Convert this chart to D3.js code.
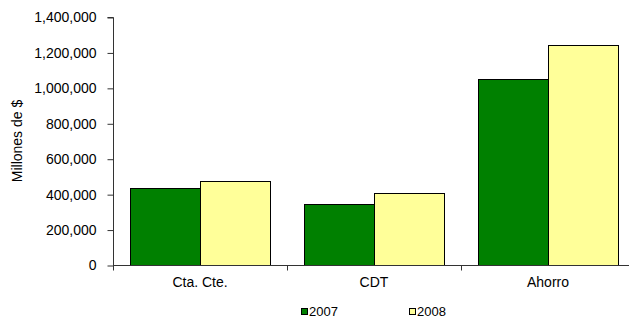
<!DOCTYPE html>
<html>
<head>
<meta charset="utf-8">
<script src="https://cdn.jsdelivr.net/npm/d3@7"></script>
<style>
  html, body { margin: 0; padding: 0; background: #fff; }
  svg { display: block; font-family: "Liberation Sans", Arial, sans-serif; }
</style>
</head>
<body>
<svg id="chart" width="629" height="320"></svg>
<script>
const categories = ["Cta. Cte.", "CDT", "Ahorro"];
const seriesNames = ["2007", "2008"];
const values2007 = [436000, 342000, 1050000];
const values2008 = [476000, 404000, 1244000];
const yTicks = [0, 200000, 400000, 600000, 800000, 1000000, 1200000, 1400000];
const colors = ["#008000", "#FFFF99"];

const svg = d3.select("#chart");
const mLeft = 113, mRight = 635, mTop = 17, mBottom = 265;

const x0 = d3.scaleBand().domain(categories).range([mLeft, mRight]).paddingInner(0).paddingOuter(0);
const x1 = d3.scaleBand().domain(seriesNames).range([0, x0.bandwidth()]).paddingInner(0).paddingOuter(0.25);
const y = d3.scaleLinear().domain([0, 1400000]).range([mBottom, mTop]);

const fmt = d3.format(",");

// bars
const data = categories.map((c, i) => ({ cat: c, vals: [values2007[i], values2008[i]] }));
const g = svg.append("g");
data.forEach(d => {
  d.vals.forEach((v, j) => {
    g.append("rect")
      .attr("x", Math.round(x0(d.cat) + x1(seriesNames[j])) + 0.5)
      .attr("y", Math.round(y(v)) + 0.5)
      .attr("width", Math.round(x1.bandwidth()))
      .attr("height", mBottom - Math.round(y(v)))
      .attr("fill", colors[j])
      .attr("stroke", "#000")
      .attr("stroke-width", 1);
  });
});

// y axis
const yAxis = d3.axisLeft(y).tickValues(yTicks).tickFormat(fmt).tickSize(6).tickPadding(11);
const ya = svg.append("g").attr("transform", `translate(${mLeft + 0.5},0.5)`).call(yAxis);
ya.select(".domain").attr("stroke", "#333").attr("d", `M-6,${mTop}H0V${mBottom}`);
ya.selectAll(".tick line").attr("stroke", "#333");
ya.selectAll(".tick text").attr("font-size", 14).attr("fill", "#000")
  .attr("font-family", "Liberation Sans, Arial, sans-serif");

// x axis
const xAxis = d3.axisBottom(x0).tickSize(0).tickPadding(12);
const xa = svg.append("g").attr("transform", `translate(0,${mBottom + 0.5})`).call(xAxis);
xa.select(".domain").attr("stroke", "#333").attr("d", `M${mLeft},0H${mRight}`);
xa.selectAll(".tick text").attr("font-size", 14).attr("fill", "#000")
  .attr("font-family", "Liberation Sans, Arial, sans-serif");
// category separators
const seps = categories.map(c => x0(c)).concat([mRight]);
xa.selectAll(".sep").data(seps).enter().append("line")
  .attr("x1", d => Math.round(d) + 0.5).attr("x2", d => Math.round(d) + 0.5)
  .attr("y1", 0).attr("y2", 5).attr("stroke", "#333");

// y label
svg.append("text")
  .attr("transform", `translate(22,${(mTop + mBottom) / 2}) rotate(-90)`)
  .attr("text-anchor", "middle")
  .attr("font-size", 14)
  .text("Millones de $");

// legend
const legendX = [301, 409];
seriesNames.forEach((s, j) => {
  const lg = svg.append("g").attr("transform", `translate(${legendX[j]},308)`);
  lg.append("rect").attr("x", 0.5).attr("y", 0.5).attr("width", 6).attr("height", 6)
    .attr("fill", colors[j]).attr("stroke", "#000");
  lg.append("text").attr("x", 8).attr("y", 8).attr("font-size", 13).text(s);
});
</script>
</body>
</html>
